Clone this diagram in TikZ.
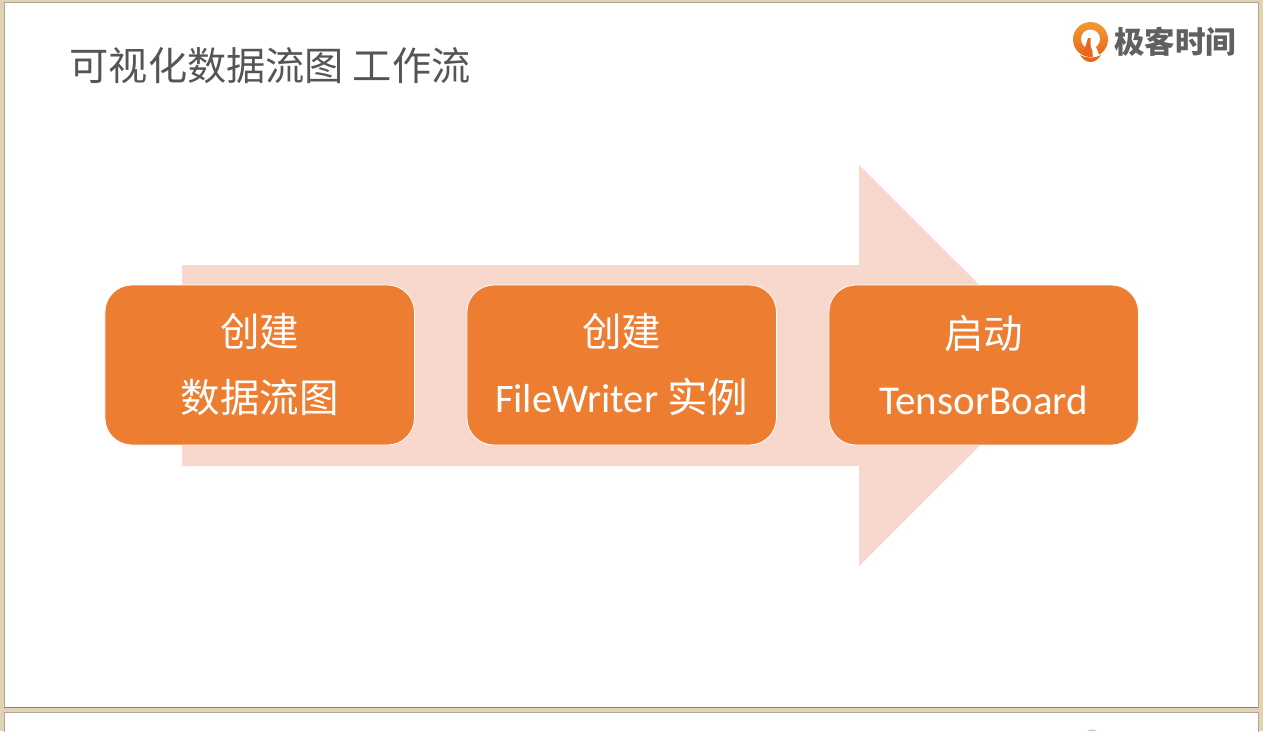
\documentclass[tikz,border=0pt]{standalone}
\usepackage{fontspec}
\setmainfont{Carlito}
\newfontfamily\cjk{Noto Sans CJK SC}
\usetikzlibrary{positioning}

\definecolor{framecol}{HTML}{E1D2B6}
\definecolor{framedark}{HTML}{86827A}
\definecolor{arrowcol}{HTML}{F8D7CD}
\definecolor{boxcol}{HTML}{ED7D31}
\definecolor{titlecol}{HTML}{555555}
\definecolor{logocol}{HTML}{606060}
\definecolor{logotop}{HTML}{F29A33}
\definecolor{logobot}{HTML}{E9671C}

\tikzset{
  stagebox/.style={draw=white, line width=0.8pt, fill=boxcol, rounded corners=27pt,
    minimum width=309.5pt, minimum height=160pt, inner sep=0pt, text=white, align=center,
    font=\fontsize{40.5}{66}\selectfont},
  panel/.style={fill=white, draw=framedark!55!framecol, line width=0.5pt}
}

\newcommand{\cjkline}[1]{{\fontsize{39.5}{66}\selectfont\cjk #1}}

\begin{document}
\begin{tikzpicture}[x=1pt, y=-1pt]
  \useasboundingbox (0,0) rectangle (1263,731);
  \fill[framecol] (0,0) rectangle (1263,731);
  \draw[panel] (4,2.5) rectangle (1258,707.5);
  \draw[framedark, line width=1pt] (4,707.5) -- (1258,707.5);
  \draw[panel] (4,712.5) rectangle (1258,735);
  \fill[gray!45] (1087,731) .. controls (1089,729) and (1094,729) .. (1097,731) -- cycle;

  % big arrow behind the boxes
  \fill[arrowcol] (182,265) -- (859,265) -- (859,165) -- (1060,365.5) -- (859,566) -- (859,466) -- (182,466) -- cycle;

  \node[stagebox] (graph) at (259.7,365) {\cjkline{创建}\\\cjkline{数据流图}};
  \node[stagebox, right=51.7pt of graph] (writer) {\cjkline{创建}\\FileWriter {\cjk 实例}};
  \node[stagebox, right=51.7pt of writer] (board) {\cjkline{启动}\\\fontsize{41}{66}\selectfont TensorBoard};

  \node[anchor=west, inner sep=0pt, text=titlecol, font=\cjk\fontsize{39.2}{39}\selectfont] (title) at (69.5,66) {可视化数据流图 工作流};

  % logo
  \shade[top color=logotop, bottom color=logobot] (1090.5,39.5) circle [radius=17.5];
  \fill[white] (1090.5,39) circle [radius=9.5];
  \fill[logobot] (1083,55) -- (1088,38) -- (1090.5,38) -- (1091,55) -- cycle;
  \fill[white] (1092,47) -- (1096,47) -- (1100,57) -- (1093,57) -- cycle;
  \fill[logobot] (1080,55) .. controls (1087,58.5) and (1094,58.5) .. (1101,55) .. controls (1098,60) and (1094,62) .. (1090.5,62) .. controls (1087,62) and (1083,60) .. (1080,55) -- cycle;
  \node[anchor=west, inner sep=0pt, text=logocol, font=\cjk\bfseries\fontsize{30.5}{30}\selectfont] (logo) at (1114,42) {极客时间};
\end{tikzpicture}
\end{document}
